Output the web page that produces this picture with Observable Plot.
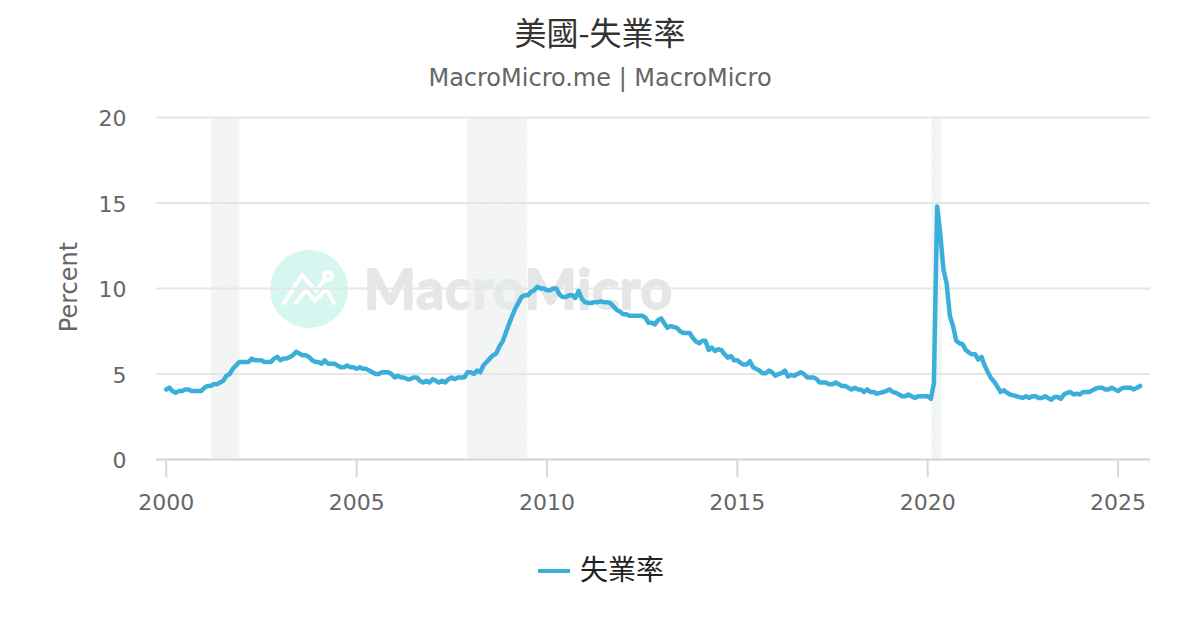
<!DOCTYPE html>
<html><head><meta charset="utf-8">
<script src="https://cdn.jsdelivr.net/npm/d3@7"></script>
<script src="https://cdn.jsdelivr.net/npm/@observablehq/plot@0.6"></script>
<style>
html,body{margin:0;padding:0;background:#fff;width:1200px;height:630px;overflow:hidden;font-family:"DejaVu Sans",sans-serif}
#wrap{position:relative;width:1200px;height:630px}
#title{position:absolute;top:8px;left:0;width:1200px;text-align:center;font:32px "Noto Sans CJK TC",sans-serif;color:#333;line-height:46px}
#sub{position:absolute;top:62px;left:0;width:1200px;text-align:center;font:24px "DejaVu Sans",sans-serif;color:#666;line-height:32px}
#wm{position:absolute;left:0;top:0}
#chart{position:absolute;left:0;top:99.5px}
#legend{position:absolute;left:538px;top:546px;height:46px;display:flex;align-items:center;font:28px "Noto Sans CJK TC",sans-serif;color:#222}
#legend i{display:block;width:32px;height:4px;background:#3bafda;margin-right:10px;position:relative;top:2px}
#legend span{position:relative;top:-1px}
</style></head><body>
<div id="wrap">
<svg id="wm" width="1200" height="630">
<defs><pattern id="dots" width="20" height="20" patternUnits="userSpaceOnUse">
<rect width="20" height="20" fill="#e9eded" fill-opacity="0.55"/>
<circle cx="5" cy="5" r="0.6" fill="#dfe3e3"/><circle cx="15" cy="15" r="0.6" fill="#dfe3e3"/>
</pattern></defs>
<circle cx="309" cy="289" r="39" fill="#d5f7f0"/>
<g fill="none" stroke="#fff" stroke-width="4" stroke-linecap="round" stroke-linejoin="round">
<path d="M284 303 L302 275 L316 291 L325 279"/><circle cx="328" cy="276" r="4"/>
<path d="M296 303 L306 290 L315 301 L326 289 L334 303"/>
</g>
<text x="364" y="309" font-family="Lato" font-weight="700" font-size="55" fill="#e5e6e7" stroke="#e5e6e7" stroke-width="2" stroke-linejoin="round" textLength="308">MacroMicro</text>
</svg>
<div id="title">美國-失業率</div>
<div id="sub">MacroMicro.me | MacroMicro</div>
<div id="chart"></div>
<div id="legend"><i></i><span>失業率</span></div>
</div>
<script>
const startYear = 2000;
const rates = [
4.1,4.2,4.0,3.9,4.0,4.0,4.1,4.1,4.0,4.0,4.0,4.0,
4.2,4.3,4.3,4.4,4.4,4.5,4.6,4.9,5.0,5.3,5.5,5.7,
5.7,5.7,5.7,5.9,5.8,5.8,5.8,5.7,5.7,5.7,5.9,6.0,
5.8,5.9,5.9,6.0,6.1,6.3,6.2,6.1,6.1,6.0,5.8,5.7,
5.7,5.6,5.8,5.6,5.6,5.6,5.5,5.4,5.4,5.5,5.4,5.4,
5.3,5.4,5.3,5.3,5.2,5.1,5.0,5.0,5.1,5.1,5.1,5.0,
4.8,4.9,4.8,4.8,4.7,4.7,4.8,4.8,4.6,4.5,4.6,4.5,
4.7,4.6,4.5,4.6,4.5,4.7,4.8,4.7,4.8,4.8,4.8,5.1,
5.1,5.0,5.2,5.1,5.5,5.7,5.9,6.1,6.2,6.6,6.9,7.4,
7.9,8.4,8.8,9.15,9.5,9.6,9.6,9.8,9.9,10.1,10.0,10.0,
9.9,9.9,10.0,10.0,9.65,9.5,9.5,9.6,9.6,9.45,9.85,9.4,
9.2,9.15,9.15,9.2,9.2,9.25,9.2,9.2,9.15,8.95,8.75,8.65,
8.5,8.5,8.4,8.4,8.4,8.4,8.4,8.3,8.0,8.0,7.9,8.15,
8.25,7.95,7.7,7.8,7.75,7.7,7.5,7.4,7.4,7.4,7.1,6.9,
6.8,6.95,6.95,6.4,6.55,6.35,6.45,6.4,6.15,5.95,6.05,5.8,
5.8,5.65,5.55,5.55,5.75,5.4,5.3,5.2,5.05,5.05,5.2,5.1,
4.9,5.0,5.05,5.2,4.85,4.95,4.9,5.0,5.1,5.0,4.8,4.8,
4.8,4.7,4.5,4.5,4.5,4.4,4.4,4.5,4.4,4.3,4.3,4.2,
4.1,4.2,4.1,4.1,3.95,4.1,3.95,3.95,3.85,3.9,3.95,4.0,
4.1,3.95,3.9,3.8,3.7,3.7,3.8,3.7,3.6,3.7,3.7,3.7,
3.7,3.55,4.45,14.8,13.2,11.1,10.3,8.4,7.8,6.95,6.8,6.75,
6.4,6.25,6.15,6.15,5.85,6.0,5.5,5.1,4.75,4.55,4.25,3.95,
4.05,3.9,3.8,3.75,3.7,3.65,3.6,3.7,3.6,3.7,3.7,3.6,
3.6,3.7,3.6,3.5,3.65,3.65,3.55,3.8,3.9,3.95,3.8,3.85,
3.8,3.95,3.95,3.95,4.05,4.15,4.2,4.2,4.1,4.1,4.2,4.1,
4.0,4.15,4.2,4.2,4.2,4.1,4.2,4.3
];
const recessionStarts = ["2001-03-12","2007-12-01","2020-02-12"];
const recessionEnds = ["2001-12-08","2009-07-01","2020-05-18"];
const xTicks = [2000,2005,2010,2015,2020,2025];
const yTicks = [0,5,10,15,20];
const series = rates.map((v,i)=>({date:new Date(Date.UTC(startYear,i,1)),v}));
const bands = recessionStarts.map((s,i)=>({a:new Date(s),b:new Date(recessionEnds[i])}));
const tick = xTicks.map(y=>new Date(Date.UTC(y,0,1)));
const ink = "#666";
const plot = Plot.plot({
  width:1200,height:430,marginTop:17,marginBottom:71,marginLeft:156,marginRight:50,
  style:{background:"transparent",fontFamily:"DejaVu Sans",fontSize:"22px",color:ink,overflow:"visible"},
  x:{type:"utc",domain:[new Date(Date.UTC(1999,8,30)),new Date(Date.UTC(2025,10,8))],label:null},
  y:{domain:[0,20],label:null},
  marks:[
    Plot.rectY(bands,{x1:"a",x2:"b",y1:0,y2:20,fill:"url(#dots)"}),
    Plot.gridY(yTicks,{stroke:"#e6e6e6",strokeWidth:2,strokeOpacity:1}),
    Plot.axisY(yTicks,{tickSize:0,tickPadding:30,label:null,anchor:"left",fill:ink,dy:1.5}),
    Plot.axisX(tick,{tickSize:18,tickPadding:17,stroke:"#d8d8d8",strokeWidth:2,strokeOpacity:1,tickFormat:d=>String(d.getUTCFullYear()),label:null,fill:ink}),
    Plot.ruleY([0],{stroke:"#d8d8d8",strokeWidth:2}),
    Plot.line(series,{x:"date",y:"v",stroke:"#3bafda",strokeWidth:4.5,strokeLinejoin:"round",curve:"linear"})
  ]
});
document.getElementById("chart").appendChild(plot);
const ns="http://www.w3.org/2000/svg";
const lbl=document.createElementNS(ns,"text");
lbl.textContent="Percent";
lbl.setAttribute("transform","translate(77,187) rotate(-90)");
lbl.setAttribute("text-anchor","middle");
lbl.setAttribute("font-size","24");
lbl.setAttribute("fill",ink);
plot.appendChild(lbl);
</script>
</body></html>
